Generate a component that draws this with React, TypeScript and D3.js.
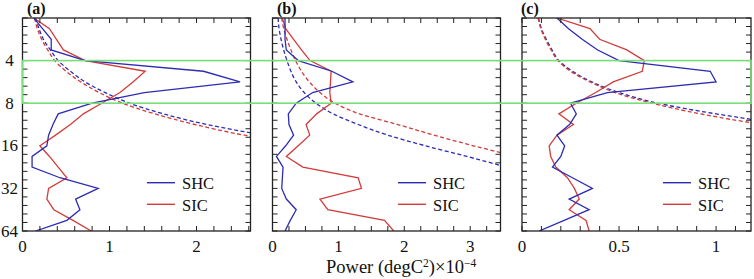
import React from 'react';
import * as d3 from 'd3';

// Periods (wavelet scales), 4 per octave from 2 to 64
const periods = [2, 2.378, 2.828, 3.364, 4, 4.757, 5.657, 6.727, 8, 9.514, 11.314, 13.454, 16, 19.027, 22.627, 26.909, 32, 38.055, 45.255, 53.817, 64];

// Panel (a)
const shcA = [0.13, 0.23, 0.33, 0.33, 0.72, 2.08, 2.50, 1.40, 0.80, 0.41, 0.35, 0.30, 0.28, 0.11, 0.11, 0.43, 0.87, 0.61, 0.66, 0.51, 0.15];
const sicA = [0.13, 0.31, 0.39, 0.47, 0.72, 1.41, 1.27, 1.12, 0.91, 0.70, 0.55, 0.38, 0.20, 0.31, 0.41, 0.51, 0.30, 0.28, 0.36, 0.58, 0.79];
const shcSigA = [0.15, 0.19, 0.24, 0.32, 0.41, 0.55, 0.72, 0.95, 1.23, 1.62, 2.12, 2.78, 3.6];
const sicSigA = [0.14, 0.17, 0.22, 0.29, 0.37, 0.50, 0.67, 0.88, 1.15, 1.52, 1.98, 2.55, 3.3];

// Panel (b)
const shcB = [0.19, 0.19, 0.19, 0.21, 0.39, 0.90, 1.22, 0.61, 0.36, 0.24, 0.25, 0.32, 0.20, 0.06, 0.16, 0.15, 0.14, 0.21, 0.36, 0.27, 0.19];
const sicB = [0.15, 0.20, 0.32, 0.44, 0.57, 0.89, 0.88, 0.87, 0.89, 0.67, 0.51, 0.565, 0.39, 0.21, 0.46, 1.30, 1.35, 0.72, 0.84, 1.70, 1.84];
const shcSigB = [0.085, 0.10, 0.13, 0.17, 0.22, 0.28, 0.36, 0.48, 0.66, 0.92, 1.30, 1.75, 2.32, 2.95, 3.55, 4.1];
const sicSigB = [0.14, 0.17, 0.22, 0.28, 0.35, 0.44, 0.56, 0.72, 0.95, 1.32, 1.90, 2.45, 3.05, 3.7];

// Panel (c)
const shcC = [0.18, 0.24, 0.31, 0.39, 0.50, 0.97, 1.00, 0.44, 0.25, 0.28, 0.245, 0.18, 0.22, 0.20, 0.157, 0.26, 0.363, 0.243, 0.346, 0.217, 0.088];
const sicC = [0.18, 0.35, 0.40, 0.54, 0.63, 0.62, 0.47, 0.38, 0.28, 0.19, 0.265, 0.18, 0.14, 0.148, 0.174, 0.234, 0.27, 0.295, 0.243, 0.33, 0.346];
const shcSigC = [0.085, 0.10, 0.125, 0.155, 0.19, 0.26, 0.36, 0.50, 0.70, 1.00, 1.38, 1.9];
const sicSigC = [0.083, 0.097, 0.12, 0.15, 0.185, 0.25, 0.35, 0.48, 0.67, 0.92, 1.25, 1.75];

const yTickLabels = [4, 8, 16, 32, 64];
const xTicksA = [0, 1, 2];
const xTicksB = [0, 1, 2, 3];
const xTicksC = [0, 0.5, 1];
const legendNames = ['SHC', 'SIC'];
const panelLabels = ['(a)', '(b)', '(c)'];
const bandPeriods = [4, 8];

const W = 754, H = 279;
const TOP = 18, BOTTOM = 231;
const BLUE = '#2c2cb4';
const RED = '#d23c3c';
const GREEN = '#78de78';
const FONT = '"Liberation Serif","Times New Roman",serif';

const y = d3.scaleLog().base(2).domain([2, 64]).range([TOP, BOTTOM]);

type PanelDef = {
  id: string;
  label: string;
  left: number;
  right: number;
  max: number;
  minorStep: number;
  ticks: number[];
  shc: number[];
  sic: number[];
  shcSig: number[];
  sicSig: number[];
  legendX: number;
  labelX: number;
};

const panels: PanelDef[] = [
  { id: 'a', label: panelLabels[0], left: 22.5, right: 250.5, max: 2.62, minorStep: 0.2, ticks: xTicksA, shc: shcA, sic: sicA, shcSig: shcSigA, sicSig: sicSigA, legendX: 147, labelX: 27 },
  { id: 'b', label: panelLabels[1], left: 272.5, right: 500.5, max: 3.46, minorStep: 0.25, ticks: xTicksB, shc: shcB, sic: sicB, shcSig: shcSigB, sicSig: sicSigB, legendX: 398, labelX: 277 },
  { id: 'c', label: panelLabels[2], left: 522, right: 751, max: 1.18, minorStep: 0.1, ticks: xTicksC, shc: shcC, sic: sicC, shcSig: shcSigC, sicSig: sicSigC, legendX: 663, labelX: 521 },
];

const yMinor = d3.range(0, 26).map((k) => Math.pow(2, 1 + k / 5));

function Panel({ p }: { p: PanelDef }) {
  const x = d3.scaleLinear().domain([0, p.max]).range([p.left, p.right]);
  const solid = d3.line<number>().x((d) => x(d)).y((_, i) => y(periods[i]));
  const smooth = d3.line<number>().x((d) => x(d)).y((_, i) => y(periods[i])).curve(d3.curveMonotoneY);
  const xMinor = d3.range(0, p.max + 1e-9, p.minorStep);
  const tl = 5;
  return (
    <g>
      <defs>
        <clipPath id={`clip-${p.id}`}>
          <rect x={p.left} y={TOP} width={p.right - p.left} height={BOTTOM - TOP} />
        </clipPath>
      </defs>
      <g clipPath={`url(#clip-${p.id})`} fill="none" strokeWidth={1.3}>
        <path d={smooth(p.shcSig) || ''} stroke={BLUE} strokeDasharray="4,2.5" />
        <path d={smooth(p.sicSig) || ''} stroke={RED} strokeDasharray="4,2.5" />
        <path d={solid(p.sic) || ''} stroke={RED} />
        <path d={solid(p.shc) || ''} stroke={BLUE} />
      </g>
      <g stroke="#222" strokeWidth={1}>
        {xMinor.map((v, i) => (
          <g key={`xt${i}`}>
            <line x1={x(v)} x2={x(v)} y1={TOP} y2={TOP + tl} />
            <line x1={x(v)} x2={x(v)} y1={BOTTOM} y2={BOTTOM - tl} />
          </g>
        ))}
        {yMinor.map((v, i) => (
          <g key={`yt${i}`}>
            <line x1={p.left} x2={p.left + tl} y1={y(v)} y2={y(v)} />
            <line x1={p.right} x2={p.right - tl} y1={y(v)} y2={y(v)} />
          </g>
        ))}
      </g>
      <rect x={p.left} y={TOP} width={p.right - p.left} height={BOTTOM - TOP} fill="none" stroke="#222" strokeWidth={1.3} />
      {p.ticks.map((v) => (
        <text key={`xl${v}`} x={x(v)} y={252} textAnchor="middle" fontFamily={FONT} fontSize={17} fill="#111">
          {String(v)}
        </text>
      ))}
      <line x1={p.legendX} x2={p.legendX + 28} y1={182.7} y2={182.7} stroke={BLUE} strokeWidth={1.4} />
      <line x1={p.legendX} x2={p.legendX + 28} y1={204.3} y2={204.3} stroke={RED} strokeWidth={1.4} />
      <text x={p.legendX + 35} y={188.5} fontFamily={FONT} fontSize={16.5} fill="#111">{legendNames[0]}</text>
      <text x={p.legendX + 35} y={210.5} fontFamily={FONT} fontSize={16.5} fill="#111">{legendNames[1]}</text>
      <text x={p.labelX} y={13.5} fontFamily={FONT} fontSize={16} fontWeight="bold" fill="#111">{p.label}</text>
    </g>
  );
}

export default function App() {
  return (
    <svg width={W} height={H} style={{ position: 'absolute', left: 0, top: 0, background: '#fff' }}>
      <rect x={0} y={0} width={W} height={H} fill="#fff" />
      {panels.map((p) => (
        <Panel key={p.id} p={p} />
      ))}
      {yTickLabels.map((v) => (
        <text key={`yl${v}`} x={9.5} y={y(v) + 5.5} textAnchor="middle" fontFamily={FONT} fontSize={17} fill="#111">
          {String(v)}
        </text>
      ))}
      <rect
        x={panels[0].left}
        y={y(bandPeriods[0])}
        width={panels[2].right - panels[0].left}
        height={y(bandPeriods[1]) - y(bandPeriods[0])}
        fill="none"
        stroke={GREEN}
        strokeWidth={1.6}
      />
      <text x={326} y={273} fontFamily={FONT} fontSize={18.5} fill="#111">
        Power (degC<tspan dy={-6.5} fontSize={11.5}>2</tspan><tspan dy={6.5}>)×10</tspan><tspan dy={-6.5} fontSize={11.5}>−4</tspan>
      </text>
    </svg>
  );
}
